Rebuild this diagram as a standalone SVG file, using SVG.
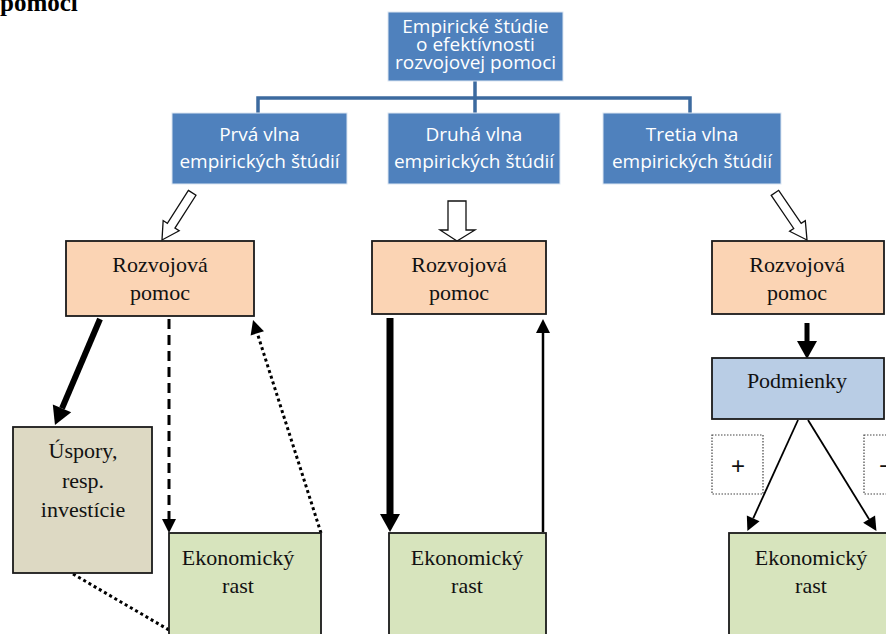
<svg xmlns="http://www.w3.org/2000/svg" width="886" height="634" viewBox="0 0 886 634">
<style>
.bb{fill:#4F81BD;stroke:#DCE6F2;stroke-width:1}
.bt{font-family:"Open Sans",Lato,sans-serif;font-size:19px;fill:#FFFFFF;text-anchor:middle}
.box{stroke:#1A1A1A;stroke-width:1.8}
.tt{font-family:"Liberation Serif","Times New Roman",serif;font-size:22px;fill:#111;text-anchor:middle}
.tree{fill:none;stroke:#3C6A9F;stroke-width:3.5}
.hol{fill:#FFFFFF;stroke:#111;stroke-width:1.3;stroke-linejoin:miter}
.ln{fill:none;stroke:#000}
.dot{fill:#FFFFFF;stroke:#444;stroke-width:1.2;stroke-dasharray:1.5 1.5}
.st{font-family:"Liberation Sans",Arial,sans-serif;font-size:24px;fill:#111;text-anchor:middle}
</style>
<defs>
<marker id="hb" markerUnits="userSpaceOnUse" markerWidth="20" markerHeight="22" refX="0" refY="0" viewBox="0 -11 20 22" orient="auto" overflow="visible"><path d="M0,-10 L18,0 L0,10 z" fill="#000"/></marker>
<marker id="hs" markerUnits="userSpaceOnUse" markerWidth="16" markerHeight="16" refX="0" refY="0" viewBox="0 -8 16 16" orient="auto" overflow="visible"><path d="M0,-7 L14,0 L0,7 z" fill="#000"/></marker>
</defs>
<rect width="886" height="634" fill="#FFFFFF"/>
<text x="0" y="11" font-family="Liberation Serif,serif" font-weight="bold" font-size="25" fill="#000">pomoci</text>

<g id="connectors">
<path class="tree" d="M475,81 V98 M258,113 V98 H690 V113 M475,98 V113"/>
<polygon class="hol" transform="translate(162,240) rotate(32.6)" points="-4.5,-56 4.5,-56 4.5,-17 9.5,-17 0,0 -9.5,-17 -4.5,-17"/>
<polygon class="hol" points="448,201 466,201 466,230 475,230 457,241 440,230 448,230"/>
<polygon class="hol" transform="translate(807,240) rotate(-34.2)" points="-4.5,-57 4.5,-57 4.5,-17 9.5,-17 0,0 -9.5,-17 -4.5,-17"/>
<line class="ln" x1="100" y1="319" x2="62" y2="408.4" stroke-width="6" marker-end="url(#hb)"/>
<line class="ln" x1="169" y1="319" x2="169" y2="519" stroke-width="3" stroke-dasharray="10 6" marker-end="url(#hs)"/>
<line class="ln" x1="321" y1="533" x2="257.3" y2="333.3" stroke-width="3" stroke-dasharray="3 3" marker-end="url(#hs)"/>
<line class="ln" x1="73" y1="574" x2="169" y2="630" stroke-width="3" stroke-dasharray="3 3"/>
<line class="ln" x1="390" y1="318" x2="390" y2="514" stroke-width="7" marker-end="url(#hb)"/>
<line class="ln" x1="543" y1="532" x2="543" y2="333" stroke-width="2.5" marker-end="url(#hs)"/>
<line class="ln" x1="807" y1="323" x2="807" y2="341" stroke-width="5" marker-end="url(#hb)"/>
<line class="ln" x1="798" y1="420" x2="753.2" y2="518.3" stroke-width="1.8" marker-end="url(#hs)"/>
<line class="ln" x1="808" y1="420" x2="869.1" y2="519.2" stroke-width="1.8" marker-end="url(#hs)"/>
</g>

<g id="root"><rect class="bb" x="388" y="12" width="175" height="69"/>
<text class="bt" x="475.5" y="33">Empirické štúdie</text>
<text class="bt" x="475.5" y="51">o efektívnosti</text>
<text class="bt" x="475.5" y="69">rozvojovej pomoci</text></g>

<g id="wave1"><rect class="bb" x="172" y="113" width="175" height="71"/>
<text class="bt" x="259.5" y="141">Prvá vlna</text>
<text class="bt" x="259.5" y="168">empirických štúdií</text></g>
<g id="wave2"><rect class="bb" x="388" y="113" width="172" height="71"/>
<text class="bt" x="474" y="141">Druhá vlna</text>
<text class="bt" x="474" y="168">empirických štúdií</text></g>
<g id="wave3"><rect class="bb" x="603" y="113" width="178" height="71"/>
<text class="bt" x="692" y="141">Tretia vlna</text>
<text class="bt" x="692" y="168">empirických štúdií</text></g>

<g id="aid1"><rect class="box" x="66" y="241" width="188" height="75" fill="#FBD4B4"/>
<text class="tt" x="160" y="272">Rozvojová</text><text class="tt" x="160" y="300">pomoc</text></g>
<g id="aid2"><rect class="box" x="372" y="241" width="174" height="73" fill="#FBD4B4"/>
<text class="tt" x="459" y="272">Rozvojová</text><text class="tt" x="459" y="300">pomoc</text></g>
<g id="aid3"><rect class="box" x="712" y="241" width="172" height="73" fill="#FBD4B4"/>
<text class="tt" x="797" y="272">Rozvojová</text><text class="tt" x="797" y="300">pomoc</text></g>

<g id="savings"><rect class="box" x="13" y="427" width="139" height="146" fill="#DDD9C3"/>
<text class="tt" x="83" y="458">Úspory,</text><text class="tt" x="83" y="488">resp.</text><text class="tt" x="83" y="517">investície</text></g>

<g id="conditions"><rect class="box" x="712" y="358" width="172" height="61" fill="#B9CDE5"/>
<text class="tt" x="797" y="388">Podmienky</text></g>

<g id="plus"><rect class="dot" x="712" y="435" width="51" height="59"/><text class="st" x="738" y="474">+</text></g>
<g id="minus"><rect class="dot" x="864" y="435" width="51" height="59"/><text class="st" x="886" y="474">−</text></g>

<g id="growth1"><rect class="box" x="169" y="533" width="152" height="110" fill="#D7E4BD"/>
<text class="tt" x="238" y="565">Ekonomický</text><text class="tt" x="238" y="593">rast</text></g>
<g id="growth2"><rect class="box" x="389" y="533" width="157" height="110" fill="#D7E4BD"/>
<text class="tt" x="467" y="565">Ekonomický</text><text class="tt" x="467" y="593">rast</text></g>
<g id="growth3"><rect class="box" x="729" y="533" width="164" height="110" fill="#D7E4BD"/>
<text class="tt" x="811" y="565">Ekonomický</text><text class="tt" x="811" y="593">rast</text></g>
</svg>
